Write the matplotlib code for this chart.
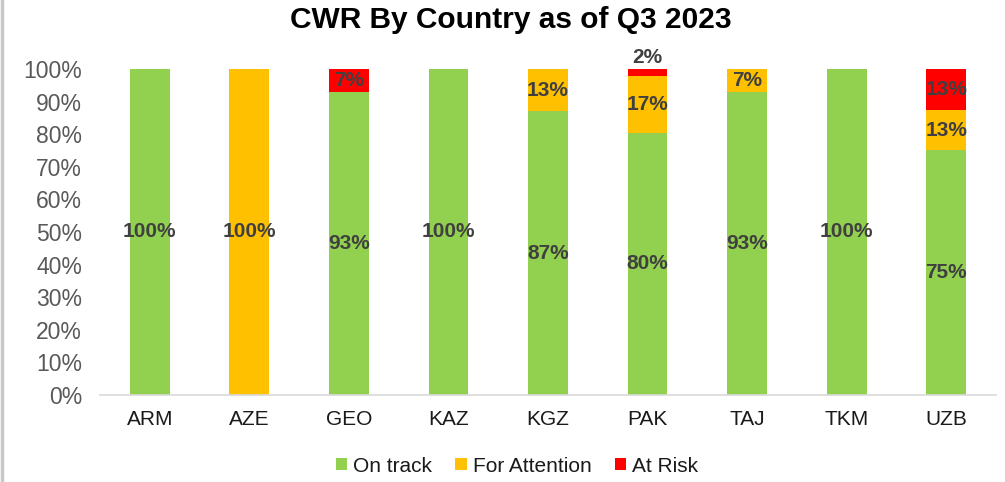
import matplotlib
matplotlib.use("Agg")
import matplotlib.pyplot as plt
from matplotlib.lines import Line2D
from matplotlib.ticker import PercentFormatter
import math

countries = ["ARM", "AZE", "GEO", "KAZ", "KGZ", "PAK", "TAJ", "TKM", "UZB"]
on_track = [100, 0, 93, 100, 87, 80.4, 93, 100, 75]
for_attention = [0, 100, 0, 0, 13, 17.4, 7, 0, 12.5]
at_risk = [0, 0, 7, 0, 0, 2.2, 0, 0, 12.5]
series_names = ["On track", "For Attention", "At Risk"]
colors = ["#92D050", "#FFC000", "#FF0000"]

plt.rcParams['font.family'] = ['Liberation Sans', 'DejaVu Sans']

fig = plt.figure(figsize=(10.05, 4.82), dpi=100)
ax = fig.add_axes([100/1005, 1-395/482, 896/1005, 326/482])

x = list(range(len(countries)))
bottoms = [0]*len(countries)
series = [on_track, for_attention, at_risk]

def fmt(v):
    return f"{int(math.floor(v + 0.5))}%"

for vals, name, col in zip(series, series_names, colors):
    ax.bar(x, vals, width=0.4, bottom=bottoms, color=col, label=name, zorder=2)
    for i, (v, b) in enumerate(zip(vals, bottoms)):
        if v <= 0:
            continue
        if v < 4:
            ax.text(i, b + v + 0.5, fmt(v), ha='center', va='bottom',
                    fontsize=15, fontweight='bold', color='#404040', zorder=3)
        else:
            ax.text(i, b + v/2, fmt(v), ha='center', va='center',
                    fontsize=15, fontweight='bold', color='#404040', zorder=3)
    bottoms = [b + v for b, v in zip(bottoms, vals)]

ax.set_xlim(-0.5, len(countries) - 0.5)
ax.set_ylim(0, 100)
ax.set_yticks(range(0, 101, 10))
ax.yaxis.set_major_formatter(PercentFormatter(decimals=0))
ax.set_xticks(x)
ax.set_xticklabels(countries)
for s in ['top', 'right', 'left']:
    ax.spines[s].set_visible(False)
ax.spines['bottom'].set_color('#D9D9D9')
ax.spines['bottom'].set_linewidth(1.2)
ax.tick_params(axis='y', length=0, labelsize=16.5, labelcolor='#595959', pad=13)
ax.tick_params(axis='x', length=0, labelsize=15, labelcolor='#1a1a1a', pad=11)

fig.text(511/1005, 1-20/482, "CWR By Country as of Q3 2023", ha='center', va='center',
         fontsize=21.5, fontweight='bold', color='#000000')

leg = fig.legend(loc='center', bbox_to_anchor=(517/1005, 1-466/482), ncol=3,
                 frameon=False, fontsize=15, handlelength=0.55, handleheight=0.55,
                 handletextpad=0.3, columnspacing=1.1, labelcolor='#1a1a1a')

fig.add_artist(Line2D([2/1005, 2/1005], [0, 1], color='#C8C8C8', linewidth=2.5,
                      transform=fig.transFigure))

fig.savefig("out.png", dpi=100)
